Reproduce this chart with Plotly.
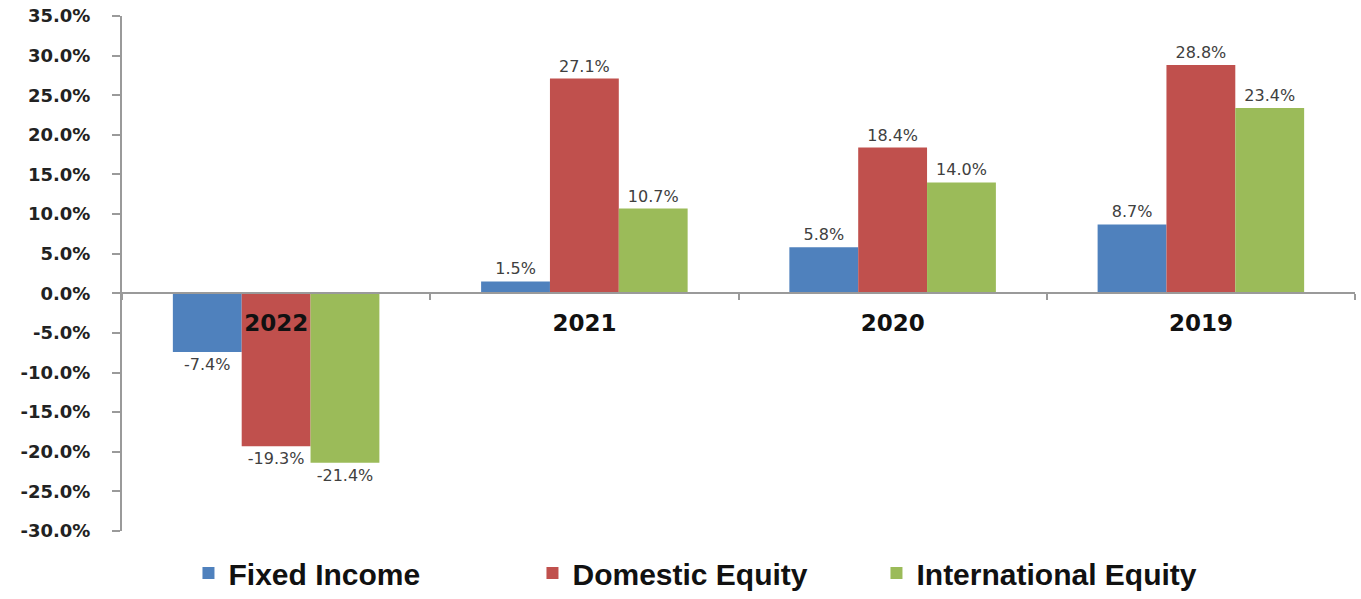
import plotly.graph_objects as go

# Calendar-year returns by asset class (percent)
years = ["2022", "2021", "2020", "2019"]
fixed_income = [-7.4, 1.5, 5.8, 8.7]
domestic_equity = [-19.3, 27.1, 18.4, 28.8]
international_equity = [-21.4, 10.7, 14.0, 23.4]

series_names = ["Fixed Income", "Domestic Equity", "International Equity"]
series_colors = ["#4F81BD", "#C0504D", "#9BBB59"]

y_tick_values = [35, 30, 25, 20, 15, 10, 5, 0, -5, -10, -15, -20, -25, -30]
y_tick_labels = ["35.0%", "30.0%", "25.0%", "20.0%", "15.0%", "10.0%", "5.0%",
                 "0.0%", "-5.0%", "-10.0%", "-15.0%", "-20.0%", "-25.0%", "-30.0%"]

y_min, y_max = -30, 35

# Figure geometry: the paper runs to the bottom edge, the value axis stops
# above the legend strip.
fig_w, fig_h = 1361, 599
margin_top = 16
axis_bottom_px = 531
y_domain_start = (fig_h - axis_bottom_px) / (fig_h - margin_top)


def pct(v):
    return f"{v:.1f}%"


fig = go.Figure()
for name, values, color in zip(series_names,
                               [fixed_income, domestic_equity, international_equity],
                               series_colors):
    fig.add_trace(go.Bar(
        name=name,
        x=years,
        y=values,
        marker=dict(color=color, line=dict(width=0)),
        text=[pct(v) for v in values],
        textposition="outside",
        textfont=dict(family="DejaVu Sans", size=16, color="#404040"),
        cliponaxis=False,
    ))

fig.update_layout(
    width=fig_w,
    height=fig_h,
    barmode="group",
    bargap=0.33,
    bargroupgap=0,
    plot_bgcolor="white",
    paper_bgcolor="white",
    margin=dict(l=122, r=6, t=margin_top, b=0, pad=0),
    legend=dict(
        orientation="h",
        x=0.4724,
        xanchor="center",
        y=0,
        yanchor="bottom",
        font=dict(family="Liberation Sans", size=30, color="#111111", weight="bold"),
        entrywidth=299,
        entrywidthmode="pixels",
        itemsizing="constant",
    ),
    showlegend=True,
)

fig.update_xaxes(
    type="category",
    anchor="free",
    position=y_domain_start + (1 - y_domain_start) * (0 - y_min) / (y_max - y_min),
    automargin=False,
    showline=True,
    linecolor="#9a9a9a",
    linewidth=2,
    ticks="outside",
    tickson="boundaries",
    ticklen=6,
    tickcolor="#9a9a9a",
    tickwidth=1.5,
    tickfont=dict(family="DejaVu Sans", size=23, color="#111111", weight="bold"),
    ticklabelstandoff=9,
    showgrid=False,
    zeroline=False,
    layer="above traces",
)

fig.update_yaxes(
    domain=[y_domain_start, 1],
    range=[y_min, y_max],
    automargin=False,
    tickmode="array",
    tickvals=y_tick_values,
    ticktext=y_tick_labels,
    showline=True,
    linecolor="#9a9a9a",
    linewidth=2,
    ticks="outside",
    ticklen=8,
    tickcolor="#9a9a9a",
    tickwidth=1.5,
    tickfont=dict(family="DejaVu Sans", size=18, color="#222222", weight="bold"),
    ticklabelstandoff=18,
    showgrid=False,
    zeroline=False,
)

fig.write_html("out.html")
